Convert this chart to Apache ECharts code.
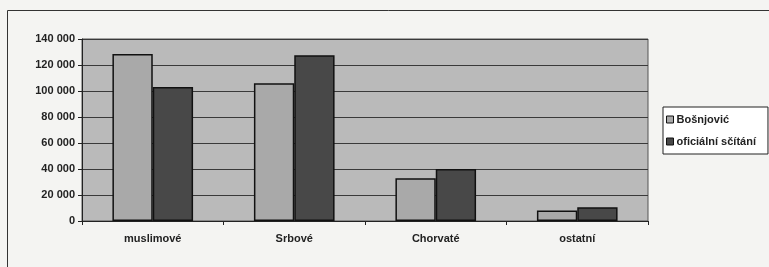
<!DOCTYPE html>
<html lang="cs">
<head>
    <meta charset="UTF-8">
    <script src="https://cdn.jsdelivr.net/npm/echarts@6/dist/echarts.min.js"></script>
    <title>Bošnjović vs oficiální sčítání</title>
</head>
<body style="margin:0">
    <div id="chart" class="chart"></div>
<style type="text/css">
.chart{
    width: 769px;
    height: 267px;
    background-color: #f4f4f2;
}
</style>
<script type="text/javascript">
var categories = ['muslimové', 'Srbové', 'Chorvaté', 'ostatní'];
var seriesNames = ['Bošnjović', 'oficiální sčítání'];
var bosnjovic = [128500, 106000, 32800, 8000];
var oficialni = [103000, 127500, 40000, 10500];

var myChart = echarts.init(document.getElementById('chart'));

function fmt(v) {
    return String(v).replace(/\B(?=(\d{3})+(?!\d))/g, ' ');
}

var font = 'Liberation Sans, Arial, sans-serif';

var option = {
    animation: false,
    graphic: [{
        type: 'rect',
        shape: { x: 7.5, y: 10.5, width: 800, height: 300 },
        style: { fill: 'none', stroke: '#333', lineWidth: 1 },
        z: -10
    }],
    grid: {
        left: 82,
        right: 121,
        top: 39,
        bottom: 46,
        show: true,
        backgroundColor: '#bababa',
        borderColor: '#555',
        borderWidth: 1
    },
    legend: {
        orient: 'vertical',
        left: 663,
        top: 107,
        padding: [7, 12, 7, 3],
        itemGap: 11,
        itemWidth: 7,
        itemHeight: 7,
        icon: 'rect',
        backgroundColor: '#ffffff',
        borderColor: '#222',
        borderWidth: 1,
        itemStyle: { borderColor: '#111', borderWidth: 1 },
        textStyle: { fontFamily: font, fontSize: 11, fontWeight: 'bold', color: '#222', padding: [0, 0, 0, -2] },
        data: seriesNames
    },
    xAxis: {
        type: 'category',
        data: categories,
        axisLine: { lineStyle: { color: '#222', width: 1 } },
        axisTick: { show: true, length: 4, lineStyle: { color: '#222' } },
        axisLabel: { fontFamily: font, fontSize: 11, fontWeight: 'bold', color: '#222', margin: 12 }
    },
    yAxis: {
        type: 'value',
        min: 0,
        max: 140000,
        interval: 20000,
        axisLine: { show: true, lineStyle: { color: '#222', width: 1 } },
        axisTick: { show: true, length: 4, lineStyle: { color: '#222' } },
        axisLabel: { fontFamily: font, fontSize: 11, fontWeight: 'bold', color: '#222', margin: 7, formatter: fmt },
        splitLine: { lineStyle: { color: '#3a3a3a', width: 1 } }
    },
    series: [
        {
            name: seriesNames[0],
            type: 'bar',
            data: bosnjovic,
            barGap: '0%',
            barCategoryGap: '43%',
            itemStyle: { color: '#a9a9a9', borderColor: '#111', borderWidth: 1.5 }
        },
        {
            name: seriesNames[1],
            type: 'bar',
            data: oficialni,
            itemStyle: { color: '#484848', borderColor: '#111', borderWidth: 1.5 }
        }
    ]
};
myChart.setOption(option);
</script>
</body>
</html>
